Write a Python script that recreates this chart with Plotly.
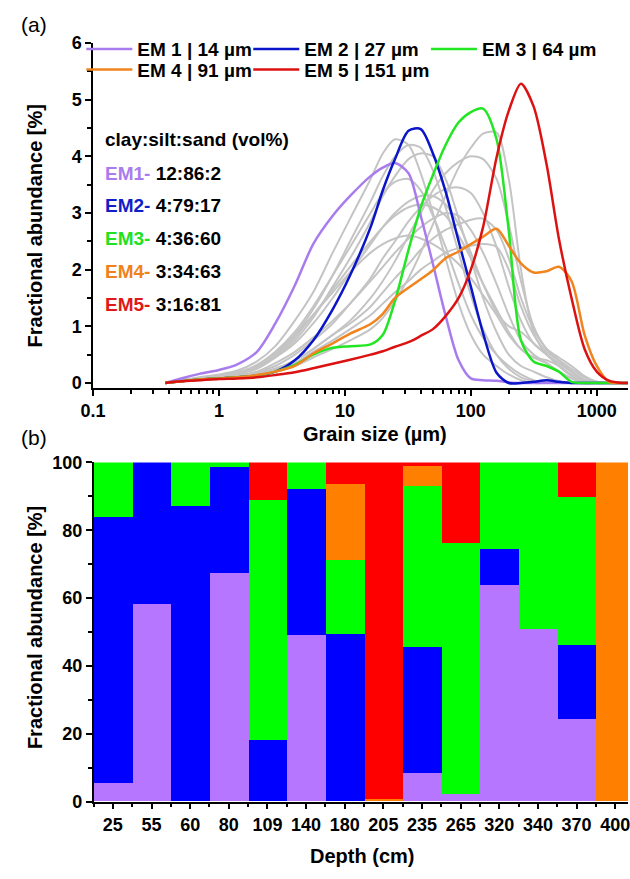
import plotly.graph_objects as go

# ---------------- data: panel (a) grain-size distributions ----------------
grain_um = [0.375, 0.5, 0.7, 1.0, 1.4, 2.0, 2.8, 4.0, 5.6, 8.0, 11, 16, 20, 25, 32, 40, 50, 63,
            80, 100, 125, 160, 200, 250, 315, 400, 500, 630, 800, 1000, 1250, 1600, 2000]

em1 = [0, 0.08, 0.16, 0.23, 0.33, 0.55, 1.05, 1.72, 2.45, 2.95, 3.3, 3.65, 3.8, 3.88, 3.7, 2.95, 2.1, 1.19,
       0.4, 0.08, 0.05, 0.04, 0.01, 0, 0, 0, 0, 0, 0, 0, 0, 0, 0]
em2 = [0, 0.03, 0.06, 0.08, 0.1, 0.13, 0.2, 0.4, 0.75, 1.3, 1.9, 2.75, 3.4, 3.95, 4.45, 4.48, 4.05, 3.38,
       2.5, 1.7, 0.88, 0.18, 0, 0, 0.02, 0.05, 0.02, 0, 0, 0, 0, 0, 0]
em3 = [0, 0.03, 0.06, 0.08, 0.1, 0.13, 0.2, 0.32, 0.5, 0.62, 0.65, 0.68, 0.85, 1.45, 2.35, 3.1, 3.67, 4.2,
       4.6, 4.78, 4.84, 4.3, 2.69, 0.75, 0.38, 0.3, 0.2, 0.02, 0, 0, 0, 0, 0]
em4 = [0, 0.03, 0.06, 0.08, 0.1, 0.14, 0.2, 0.3, 0.52, 0.7, 0.87, 1.04, 1.22, 1.5, 1.68, 1.83, 1.99, 2.2,
       2.32, 2.45, 2.58, 2.72, 2.42, 2.11, 1.95, 1.97, 2.05, 1.8, 0.85, 0.3, 0.02, 0, 0]
em5 = [0, 0.03, 0.05, 0.07, 0.08, 0.1, 0.14, 0.19, 0.26, 0.34, 0.41, 0.5, 0.56, 0.64, 0.72, 0.83, 0.95, 1.18,
       1.5, 2.0, 2.75, 3.98, 4.8, 5.28, 4.88, 3.85, 2.55, 1.5, 0.6, 0.2, 0.04, 0, 0]

gray_samples = [
    [0, 0.05, 0.1, 0.15, 0.22, 0.38, 0.65, 1.1, 1.6, 2.3, 2.9, 3.6, 4.05, 4.3, 4.2, 3.7, 3.0, 2.2, 1.4, 0.85,
     0.5, 0.3, 0.15, 0.05, 0, 0, 0, 0, 0, 0, 0, 0, 0],
    [0, 0.04, 0.08, 0.12, 0.18, 0.3, 0.5, 0.85, 1.3, 1.9, 2.5, 3.2, 3.65, 4.0, 4.2, 4.15, 3.75, 3.1, 2.3, 1.55,
     0.95, 0.5, 0.25, 0.1, 0.03, 0, 0, 0, 0, 0, 0, 0, 0],
    [0, 0.04, 0.07, 0.1, 0.15, 0.25, 0.45, 0.75, 1.15, 1.7, 2.2, 2.85, 3.3, 3.65, 3.95, 4.05, 4.0, 3.6, 2.9, 2.2,
     1.5, 0.9, 0.5, 0.3, 0.2, 0.1, 0.03, 0, 0, 0, 0, 0, 0],
    [0, 0.05, 0.09, 0.13, 0.19, 0.32, 0.55, 0.9, 1.35, 1.9, 2.4, 3.0, 3.35, 3.55, 3.6, 3.4, 2.95, 2.4, 1.75, 1.2,
     0.8, 0.5, 0.3, 0.15, 0.05, 0, 0, 0, 0, 0, 0, 0, 0],
    [0, 0.04, 0.08, 0.12, 0.17, 0.28, 0.48, 0.8, 1.2, 1.65, 2.05, 2.5, 2.75, 2.95, 3.1, 3.15, 3.1, 2.95, 2.6, 2.2,
     1.75, 1.3, 0.9, 0.6, 0.45, 0.35, 0.2, 0.08, 0, 0, 0, 0, 0],
    [0, 0.04, 0.08, 0.12, 0.18, 0.3, 0.52, 0.85, 1.2, 1.6, 1.95, 2.3, 2.45, 2.55, 2.6, 2.55, 2.45, 2.3, 2.1, 1.85,
     1.55, 1.2, 0.85, 0.6, 0.45, 0.4, 0.3, 0.15, 0.04, 0, 0, 0, 0],
    [0, 0.03, 0.06, 0.09, 0.13, 0.2, 0.35, 0.55, 0.8, 1.1, 1.4, 1.8, 2.05, 2.3, 2.55, 2.75, 2.9, 3.0, 2.95, 2.7,
     2.3, 1.75, 1.2, 0.75, 0.5, 0.35, 0.2, 0.08, 0, 0, 0, 0, 0],
    [0, 0.03, 0.05, 0.07, 0.1, 0.14, 0.2, 0.3, 0.45, 0.6, 0.75, 0.95, 1.15, 1.45, 1.85, 2.3, 2.8, 3.3, 3.8, 4.15,
     4.4, 4.42, 3.6, 2.0, 0.9, 0.5, 0.35, 0.2, 0.05, 0, 0, 0, 0],
    [0, 0.03, 0.06, 0.08, 0.11, 0.16, 0.25, 0.4, 0.6, 0.85, 1.1, 1.5, 1.8, 2.15, 2.6, 3.0, 3.4, 3.7, 3.9, 4.0,
     3.95, 3.6, 2.8, 1.8, 1.0, 0.6, 0.4, 0.2, 0.05, 0, 0, 0, 0],
    [0, 0.03, 0.06, 0.09, 0.12, 0.19, 0.3, 0.5, 0.75, 1.05, 1.4, 1.85, 2.2, 2.5, 2.85, 3.1, 3.3, 3.42, 3.45, 3.35,
     3.0, 2.4, 1.7, 1.1, 0.7, 0.5, 0.35, 0.2, 0.06, 0, 0, 0, 0],
    [0, 0.03, 0.05, 0.08, 0.1, 0.15, 0.2, 0.35, 0.55, 0.75, 0.95, 1.2, 1.4, 1.6, 1.8, 2.0, 2.15, 2.3, 2.38, 2.42,
     2.45, 2.4, 2.0, 1.35, 0.85, 0.55, 0.4, 0.25, 0.1, 0.02, 0, 0, 0],
    [0, 0.03, 0.06, 0.08, 0.11, 0.17, 0.25, 0.4, 0.6, 0.85, 1.05, 1.35, 1.6, 1.85, 2.1, 2.35, 2.55, 2.7, 2.8, 2.88,
     2.9, 2.7, 2.2, 1.5, 0.95, 0.6, 0.45, 0.3, 0.12, 0.02, 0, 0, 0],
    [0, 0.04, 0.08, 0.12, 0.17, 0.27, 0.45, 0.7, 1.05, 1.5, 1.95, 2.45, 2.75, 3.0, 3.2, 3.3, 3.3, 3.15, 2.8, 2.3,
     1.75, 1.25, 1.0, 0.9, 0.7, 0.5, 0.3, 0.12, 0.02, 0, 0, 0, 0],
]

em_names = ["EM 1 | 14 µm", "EM 2 | 27 µm", "EM 3 | 64 µm", "EM 4 | 91 µm", "EM 5 | 151 µm"]
em_short = ["EM1-", "EM2-", "EM3-", "EM4-", "EM5-"]
em_ratios = ["12:86:2", "4:79:17", "4:36:60", "3:34:63", "3:16:81"]

# ---------------- data: panel (b) end-member fractions per depth ----------------
depth_cm = ["25", "55", "60", "80", "109", "140", "180", "205", "235", "265", "320", "340", "370", "400"]
frac_em1 = [5.4, 58.2, 0, 67.4, 0, 49.0, 0, 0, 8.4, 2.1, 63.6, 50.8, 24.1, 0]
frac_em2 = [78.5, 41.8, 86.9, 31.1, 18.0, 43.0, 49.3, 0, 36.9, 0, 10.8, 0, 21.9, 0]
frac_em3 = [16.1, 0, 13.1, 1.5, 70.8, 8.0, 21.9, 0, 47.6, 74.0, 25.6, 49.2, 43.8, 0]
frac_em4 = [0, 0, 0, 0, 0, 0, 22.4, 0.7, 6.0, 0, 0, 0, 0, 100]
frac_em5 = [0, 0, 0, 0, 11.2, 0, 6.4, 99.3, 1.1, 23.9, 0, 0, 10.2, 0]

# ---------------- styling ----------------
W, H = 630, 879
FONT = "Liberation Sans"
line_colors = ["#A97CEE", "#0A14C8", "#22E622", "#F0841E", "#DC1212"]
bar_colors = ["#B776FF", "#0000FF", "#00FF00", "#FF8000", "#FF0000"]
label_colors = ["#A97CEE", "#1020C8", "#22E022", "#F0821E", "#E01818"]
legend_ids = ["legend", "legend2", "legend3", "legend4", "legend5"]
legend_pos = [(70, 40), (241, 40), (423, 40), (70, 61), (241, 61)]  # pixel anchor of each legend entry


def px(x):
    return x / W


def py(y):
    return 1 - y / H


fig = go.Figure()

for g in gray_samples:
    fig.add_trace(go.Scatter(x=grain_um, y=g, mode="lines", showlegend=False, hoverinfo="skip",
                             line=dict(color="#C4C4C4", width=2, shape="spline", smoothing=0.8),
                             xaxis="x", yaxis="y"))

for name, vals, col, lg in zip(em_names, [em1, em2, em3, em4, em5], line_colors, legend_ids):
    fig.add_trace(go.Scatter(x=grain_um, y=vals, mode="lines", name=name, legend=lg,
                             line=dict(color=col, width=2.5, shape="spline", smoothing=0.8),
                             xaxis="x", yaxis="y"))

cat_idx = list(range(len(depth_cm)))
for vals, col in zip([frac_em1, frac_em2, frac_em3, frac_em4, frac_em5], bar_colors):
    fig.add_trace(go.Bar(x=cat_idx, y=vals, marker=dict(color=col, line=dict(width=0)), width=1.0,
                         showlegend=False, xaxis="x2", yaxis="y2"))

tickfont = dict(family=FONT, size=18, color="black", weight="bold")
axis_common = dict(showline=True, linecolor="black", linewidth=1.5, ticks="outside", ticklen=6,
                   tickwidth=1.5, tickcolor="black", showgrid=False, zeroline=False, tickfont=tickfont)

minor_log = [m * 10 ** e for e in range(-1, 4) for m in range(2, 10)]

legend_font = dict(family=FONT, size=19, color="black", weight="bold")
legend_layout = {}
for lg, (lx, ly) in zip(legend_ids, legend_pos):
    legend_layout[lg] = dict(orientation="h", xanchor="left", yanchor="middle", x=px(lx), y=py(ly),
                             itemwidth=46, font=legend_font, bgcolor="rgba(0,0,0,0)")

fig.update_layout(
    width=W, height=H, margin=dict(l=0, r=0, t=0, b=0),
    paper_bgcolor="white", plot_bgcolor="white", barmode="stack", bargap=0,
    showlegend=True,
    xaxis=dict(axis_common, type="log", domain=[px(82), 1], range=[-1, 3.248], anchor="y",
               tickvals=[0.1, 1, 10, 100, 1000], ticktext=["0.1", "1", "10", "100", "1000"],
               minor=dict(tickmode="array", tickvals=minor_log, ticks="outside", ticklen=4,
                          tickwidth=1.5, tickcolor="black")),
    yaxis=dict(axis_common, domain=[py(386.7), py(33.7)], range=[-0.087, 6], anchor="x",
               tickvals=[0, 1, 2, 3, 4, 5, 6],
               minor=dict(dtick=0.5, ticks="outside", ticklen=4, tickwidth=1.5, tickcolor="black")),
    xaxis2=dict(axis_common, domain=[px(82.5), 1], range=[-0.5, 13.33], anchor="y2",
                tickvals=cat_idx, ticktext=depth_cm, ticklabeloverflow="allow",
                minor=dict(tickmode="array", tickvals=[i - 0.5 for i in range(len(depth_cm) + 1)],
                           ticks="outside", ticklen=4, tickwidth=1.5, tickcolor="black")),
    yaxis2=dict(axis_common, domain=[py(810), py(463)], range=[0, 100], anchor="x2",
                tickvals=[0, 20, 40, 60, 80, 100],
                minor=dict(dtick=10, ticks="outside", ticklen=4, tickwidth=1.5, tickcolor="black")),
    **legend_layout,
)

ann = []
ann.append(dict(text="(a)", x=px(6), y=py(15), xanchor="left", yanchor="middle", showarrow=False,
                xref="paper", yref="paper", font=dict(family=FONT, size=21, color="black")))
ann.append(dict(text="(b)", x=px(6), y=py(437), xanchor="left", yanchor="middle", showarrow=False,
                xref="paper", yref="paper", font=dict(family=FONT, size=21, color="black")))
title_font = dict(family=FONT, size=20, color="black", weight="bold")
ann.append(dict(text="Fractional abundance [%]", x=px(22), y=py(221), textangle=-90, showarrow=False,
                xref="paper", yref="paper", xanchor="center", yanchor="middle", font=title_font))
ann.append(dict(text="Fractional abundance [%]", x=px(22), y=py(632), textangle=-90, showarrow=False,
                xref="paper", yref="paper", xanchor="center", yanchor="middle", font=title_font))
ann.append(dict(text="Grain size (µm)", x=px(371), y=py(434), showarrow=False,
                xref="paper", yref="paper", xanchor="center", yanchor="middle", font=title_font))
ann.append(dict(text="Depth (cm)", x=px(358), y=py(866), showarrow=False,
                xref="paper", yref="paper", xanchor="center", yanchor="middle", font=title_font))

txt_font = dict(family=FONT, size=19, color="black", weight="bold")
ann.append(dict(text="clay:silt:sand (vol%)", x=px(92), y=py(133), showarrow=False,
                xref="paper", yref="paper", xanchor="left", yanchor="middle", font=txt_font))
for i, (s, r, c) in enumerate(zip(em_short, em_ratios, label_colors)):
    ann.append(dict(text=f"<span style='color:{c}'>{s}</span> {r}", x=px(92), y=py(167 + 33.5 * i),
                    showarrow=False, xref="paper", yref="paper", xanchor="left", yanchor="middle",
                    font=txt_font))

fig.update_layout(annotations=ann)
fig.write_html("out.html")
